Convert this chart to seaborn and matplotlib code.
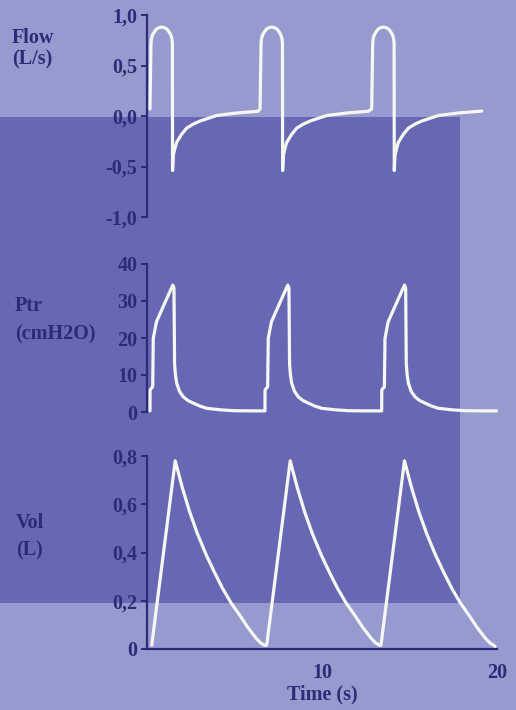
import matplotlib
matplotlib.use("Agg")
import numpy as np
import pandas as pd
import matplotlib.pyplot as plt
import seaborn as sns
from matplotlib.patches import Rectangle

# ---- data -------------------------------------------------------------
# One breath of each trace: time (s) from breath onset and the value.
FLOW_CYCLE_T = [0.0, 0.057, 0.078, 0.139, 0.236, 0.363, 0.51, 0.669, 0.827,
                0.974, 1.101, 1.198, 1.259, 1.28, 1.29, 1.331, 1.411, 1.526,
                1.811, 2.097, 2.474, 2.857, 3.811, 4.954, 6.189]
FLOW_CYCLE = [0.07, 0.72, 0.76, 0.80, 0.83, 0.86, 0.875, 0.88, 0.875,
              0.86, 0.83, 0.80, 0.76, 0.72, -0.54, -0.39, -0.33, -0.26,
              -0.18, -0.12, -0.08, -0.05, 0.005, 0.03, 0.047]
FLOW_ONSETS = [0.17, 6.46, 12.84]
FLOW_END_T, FLOW_END = 19.13, 0.05

PTR_CYCLE_T = [0.0, 0.006, 0.154, 0.189, 0.371, 1.303, 1.371, 1.406, 1.457,
               1.526, 1.686, 1.903, 2.171, 2.474, 2.857, 3.24, 4.0, 4.76,
               5.714, 6.629]
PTR_CYCLE = [0.3, 6.0, 6.8, 19.9, 24.4, 34.3, 33.5, 13.0, 10.0,
             7.8, 5.6, 4.1, 3.1, 2.4, 1.6, 1.0, 0.6, 0.35,
             0.3, 0.3]
PTR_ONSETS = [0.17, 6.74, 13.41]
PTR_END_T, PTR_END = 19.98, 0.3

VOL_CYCLE_T = [0.0, 1.343, 1.743, 2.16, 2.6, 3.114, 3.571, 4.057, 4.543,
               5.029, 5.486, 5.971, 6.229, 6.457]
VOL_CYCLE = [0.016, 0.78, 0.67, 0.57, 0.48, 0.39, 0.32, 0.25, 0.19,
             0.14, 0.09, 0.044, 0.025, 0.015]
VOL_ONSETS = [0.27, 6.84, 13.37]
VOL_END_T, VOL_END = 19.89, 0.01

FLOW_TICKS = [-1.0, -0.5, 0.0, 0.5, 1.0]
FLOW_TICK_LABELS = ["-1,0", "-0,5", "0,0", "0,5", "1,0"]
PTR_TICKS = [0, 10, 20, 30, 40]
PTR_TICK_LABELS = ["0", "10", "20", "30", "40"]
VOL_TICKS = [0.0, 0.2, 0.4, 0.6, 0.8]
VOL_TICK_LABELS = ["0", "0,2", "0,4", "0,6", "0,8"]
TIME_TICKS = [10, 20]
TIME_TICK_LABELS = ["10", "20"]


def trace(cycle_t, cycle_v, onsets, end_t, end_v):
    """Lay the breath cycle down at each onset, cut at the next onset."""
    ts, vs = [], []
    stops = list(onsets[1:]) + [end_t]
    for on, stop in zip(onsets, stops):
        for rt, v in zip(cycle_t, cycle_v):
            if on + rt < stop:
                ts.append(on + rt)
                vs.append(v)
    ts.append(end_t)
    vs.append(end_v)
    return pd.DataFrame({"t": ts, "v": vs})


flow_df = trace(FLOW_CYCLE_T, FLOW_CYCLE, FLOW_ONSETS, FLOW_END_T, FLOW_END)
ptr_df = trace(PTR_CYCLE_T, PTR_CYCLE, PTR_ONSETS, PTR_END_T, PTR_END)
vol_df = trace(VOL_CYCLE_T, VOL_CYCLE, VOL_ONSETS, VOL_END_T, VOL_END)

# ---- style ------------------------------------------------------------
sns.set_style("ticks")
LIGHT = "#979acf"
DARK = "#6668b3"
INK = "#2a2c78"
TRACE = "#f7f7f2"
plt.rcParams["font.family"] = ["Liberation Serif", "DejaVu Serif"]
plt.rcParams["font.weight"] = "bold"
FS = 14.5

W, H = 516, 710
fig = plt.figure(figsize=(W / 100, H / 100), dpi=100)
fig.patch.set_facecolor(LIGHT)

# darker backdrop band behind the traces
band = Rectangle((0, 1 - 603 / H), 460 / W, (603 - 117) / H,
                 transform=fig.transFigure, facecolor=DARK,
                 edgecolor="none", zorder=-5)
fig.add_artist(band)


def px_axes(top, bottom):
    left, right = 147, 497
    ax = fig.add_axes([left / W, 1 - bottom / H, (right - left) / W,
                       (bottom - top) / H])
    ax.set_zorder(1)
    return ax


ax_flow = px_axes(15, 217)
ax_ptr = px_axes(264, 412)
ax_vol = px_axes(456, 649)

panels = [
    (ax_flow, flow_df, (-1, 1), FLOW_TICKS, FLOW_TICK_LABELS),
    (ax_ptr, ptr_df, (0, 40), PTR_TICKS, PTR_TICK_LABELS),
    (ax_vol, vol_df, (0, 0.8), VOL_TICKS, VOL_TICK_LABELS),
]

for ax, df, ylim, ticks, labels in panels:
    ax.set_facecolor("none")
    ax.patch.set_alpha(0)
    sns.lineplot(data=df, x="t", y="v", ax=ax, sort=False, estimator=None,
                 color=TRACE, linewidth=2.3)
    for ln in ax.lines:
        ln.set_clip_on(False)
        ln.set_solid_joinstyle("round")
        ln.set_solid_capstyle("round")
    ax.set_xlim(0, 20)
    ax.set_ylim(*ylim)
    ax.set_yticks(ticks)
    ax.set_yticklabels(labels)
    ax.set_xlabel("")
    ax.set_ylabel("")
    for side in ("top", "right"):
        ax.spines[side].set_visible(False)
    ax.spines["left"].set_color(INK)
    ax.spines["left"].set_linewidth(1.6)
    ax.spines["bottom"].set_color(INK)
    ax.spines["bottom"].set_linewidth(1.6)
    ax.tick_params(axis="y", colors=INK, length=4, width=1.4, pad=3,
                   labelsize=FS)
    for lab in ax.get_yticklabels():
        lab.set_fontweight("bold")

for ax in (ax_flow, ax_ptr):
    ax.spines["bottom"].set_visible(False)
    ax.set_xticks([])

ax_vol.set_xticks(TIME_TICKS)
ax_vol.set_xticklabels(TIME_TICK_LABELS)
ax_vol.tick_params(axis="x", colors=INK, length=0, pad=10, labelsize=FS)
for lab in ax_vol.get_xticklabels():
    lab.set_fontweight("bold")
ax_vol.set_xlabel("Time (s)", color=INK, fontsize=FS, fontweight="bold",
                  labelpad=1)


def label(x, y, s):
    fig.text(x / W, 1 - y / H, s, color=INK, fontsize=FS,
             fontweight="bold", ha="left", va="center")


label(12, 38, "Flow")
label(12, 59, "(L/s)")
label(15, 306, "Ptr")
label(15, 334, "(cmH2O)")
label(16, 523, "Vol")
label(16, 550, "(L)")

fig.savefig("out.png", dpi=100, facecolor=LIGHT)
